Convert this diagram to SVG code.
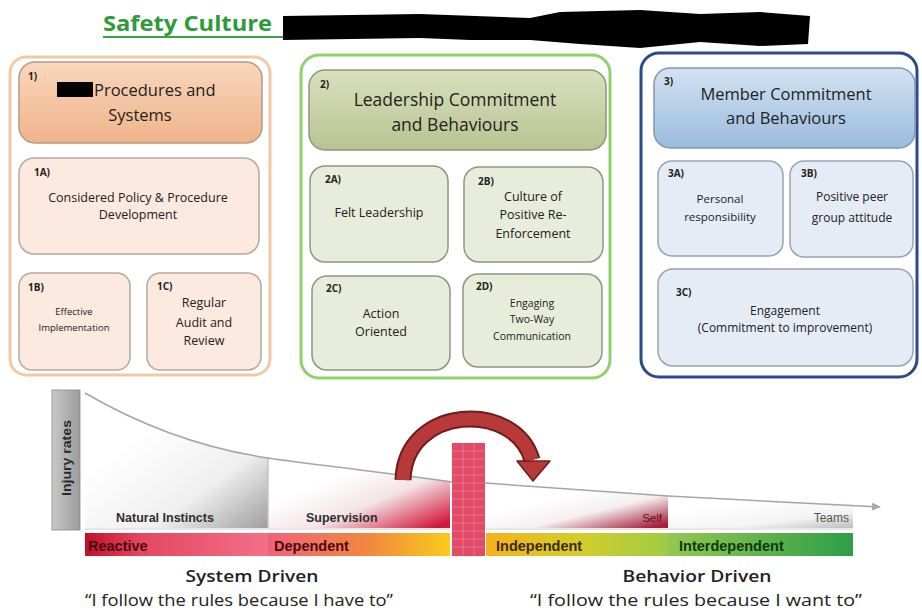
<svg xmlns="http://www.w3.org/2000/svg" width="922" height="613" viewBox="0 0 922 613">
<defs>
<style>
.t{font-family:"Open Sans","Noto Sans","Liberation Sans",sans-serif;fill:#222222}
.b{font-family:"Liberation Sans",Arial,sans-serif;font-weight:bold}
.lbl{font-size:10px;font-weight:bold}
.sub1{fill:#fce9df;stroke:#b8a8a0;stroke-width:1.5}
.sub2{fill:#e8ecdb;stroke:#8e9682;stroke-width:1.5}
.sub3{fill:#e5ecf5;stroke:#98a3b4;stroke-width:1.5}
</style>
<linearGradient id="h1" x1="0" y1="0" x2="0" y2="1"><stop offset="0" stop-color="#f9d6bd"/><stop offset="1" stop-color="#efb48a"/></linearGradient>
<linearGradient id="h2" x1="0" y1="0" x2="0" y2="1"><stop offset="0" stop-color="#d9e0bd"/><stop offset="1" stop-color="#b8c392"/></linearGradient>
<linearGradient id="h3" x1="0" y1="0" x2="0" y2="1"><stop offset="0" stop-color="#d3e2f2"/><stop offset="1" stop-color="#9abbdc"/></linearGradient>
<linearGradient id="ir" x1="0" y1="0" x2="1" y2="0"><stop offset="0" stop-color="#c8c8c8"/><stop offset="1" stop-color="#9c9c9c"/></linearGradient>
<linearGradient id="p1" x1="0.3" y1="0.3" x2="1" y2="1"><stop offset="0" stop-color="#ffffff"/><stop offset="0.55" stop-color="#efefef"/><stop offset="1" stop-color="#9e9e9e"/></linearGradient>
<linearGradient id="p2" x1="0.35" y1="0.3" x2="1" y2="0.9"><stop offset="0" stop-color="#ffffff"/><stop offset="0.45" stop-color="#f3e3e6"/><stop offset="1" stop-color="#d4173a"/></linearGradient>
<linearGradient id="p3" x1="0.4" y1="0.3" x2="1" y2="0.9"><stop offset="0" stop-color="#ffffff"/><stop offset="0.45" stop-color="#f5eef0"/><stop offset="1" stop-color="#a8203e"/></linearGradient>
<linearGradient id="p4" x1="0.4" y1="0.2" x2="1" y2="1"><stop offset="0" stop-color="#ffffff"/><stop offset="0.6" stop-color="#f3f3f3"/><stop offset="1" stop-color="#bdbdbd"/></linearGradient>
<linearGradient id="g1" x1="0" y1="0" x2="1" y2="0"><stop offset="0" stop-color="#c0102c"/><stop offset="0.3" stop-color="#e54660"/><stop offset="1" stop-color="#f27088"/></linearGradient>
<linearGradient id="g2" x1="0" y1="0" x2="1" y2="0"><stop offset="0" stop-color="#ef6378"/><stop offset="0.55" stop-color="#f2873e"/><stop offset="1" stop-color="#f8cc1c"/></linearGradient>
<linearGradient id="g3" x1="0" y1="0" x2="1" y2="0"><stop offset="0" stop-color="#f6b21a"/><stop offset="0.5" stop-color="#d6cc2a"/><stop offset="1" stop-color="#9fcb45"/></linearGradient>
<linearGradient id="g4" x1="0" y1="0" x2="1" y2="0"><stop offset="0" stop-color="#92c850"/><stop offset="1" stop-color="#2e9e48"/></linearGradient>
<marker id="ah" markerWidth="10" markerHeight="8" refX="8" refY="4" orient="auto" markerUnits="userSpaceOnUse"><path d="M0,0 L9,4 L0,8 Z" fill="#a8a8a8"/></marker>
</defs>
<rect x="0" y="0" width="922" height="613" fill="#ffffff"/>

<!-- title -->
<g id="title">
<text x="103" y="31" class="t" style="font-size:22px;font-weight:bold;fill:#2e9a3a" textLength="169" lengthAdjust="spacingAndGlyphs">Safety Culture</text>
<rect x="103" y="36" width="390" height="2" fill="#3aa040"/>
<path d="M283,16 L420,14 L530,18 L560,12 L640,10 L700,14 L760,12 L810,16 L808,44 L760,46 L700,42 L640,48 L580,44 L530,40 L470,40 L420,38 L283,40 Z" fill="#000000"/>
</g>

<!-- box 1 -->
<g id="box1">
<rect x="10" y="57" width="260" height="318" rx="16" fill="#ffffff" stroke="#f3c9a5" stroke-width="3"/>
</g>
<g id="n1">
<rect x="19" y="62" width="243" height="81" rx="16" fill="url(#h1)" stroke="#b4998a" stroke-width="1.5"/>
<text x="28" y="80" class="t lbl">1)</text>
<rect x="57" y="82" width="36" height="15" fill="#000000"/>
<text x="94" y="96" class="t" style="font-size:16.5px">Procedures and</text>
<text x="140" y="121" class="t" style="font-size:16.5px" text-anchor="middle">Systems</text>
</g>
<g id="n1A">
<rect x="19" y="158" width="240" height="96" rx="15" class="sub1"/>
<text x="34" y="176" class="t lbl">1A)</text>
<text x="138" y="202" class="t" style="font-size:12.5px" text-anchor="middle">Considered Policy &amp; Procedure</text>
<text x="138" y="219" class="t" style="font-size:12.5px" text-anchor="middle">Development</text>
</g>
<g id="n1B">
<rect x="19" y="273" width="111" height="97" rx="13" class="sub1"/>
<text x="28" y="291" class="t lbl">1B)</text>
<text x="74" y="315" class="t" style="font-size:9.5px" text-anchor="middle">Effective</text>
<text x="74" y="331" class="t" style="font-size:9.5px" text-anchor="middle">Implementation</text>
</g>
<g id="n1C">
<rect x="147" y="273" width="114" height="97" rx="13" class="sub1"/>
<text x="157" y="290" class="t lbl">1C)</text>
<text x="204" y="307" class="t" style="font-size:12.5px" text-anchor="middle">Regular</text>
<text x="204" y="327" class="t" style="font-size:12.5px" text-anchor="middle">Audit and</text>
<text x="204" y="345" class="t" style="font-size:12.5px" text-anchor="middle">Review</text>
</g>

<!-- box 2 -->
<g id="box2">
<rect x="301" y="55" width="309" height="323" rx="18" fill="#ffffff" stroke="#8fd16b" stroke-width="3"/>
</g>
<g id="n2">
<rect x="309" y="70" width="297" height="80" rx="16" fill="url(#h2)" stroke="#8d9678" stroke-width="1.5"/>
<text x="320" y="88" class="t lbl">2)</text>
<text x="455" y="106" class="t" style="font-size:17.5px" text-anchor="middle">Leadership Commitment</text>
<text x="455" y="131" class="t" style="font-size:17.5px" text-anchor="middle">and Behaviours</text>
</g>
<g id="n2A">
<rect x="310" y="166" width="138" height="96" rx="15" class="sub2"/>
<text x="325" y="183" class="t lbl">2A)</text>
<text x="379" y="217" class="t" style="font-size:12.5px" text-anchor="middle">Felt Leadership</text>
</g>
<g id="n2B">
<rect x="464" y="167" width="139" height="95" rx="15" class="sub2"/>
<text x="478" y="185" class="t lbl">2B)</text>
<text x="533" y="201" class="t" style="font-size:12.5px" text-anchor="middle">Culture of</text>
<text x="533" y="219" class="t" style="font-size:12.5px" text-anchor="middle">Positive Re-</text>
<text x="533" y="238" class="t" style="font-size:12.5px" text-anchor="middle">Enforcement</text>
</g>
<g id="n2C">
<rect x="312" y="276" width="138" height="94" rx="15" class="sub2"/>
<text x="326" y="292" class="t lbl">2C)</text>
<text x="381" y="318" class="t" style="font-size:12.5px" text-anchor="middle">Action</text>
<text x="381" y="336" class="t" style="font-size:12.5px" text-anchor="middle">Oriented</text>
</g>
<g id="n2D">
<rect x="463" y="274" width="139" height="93" rx="15" class="sub2"/>
<text x="476" y="290" class="t lbl">2D)</text>
<text x="532" y="307" class="t" style="font-size:10.5px" text-anchor="middle">Engaging</text>
<text x="532" y="323" class="t" style="font-size:10.5px" text-anchor="middle">Two-Way</text>
<text x="532" y="340" class="t" style="font-size:10.5px" text-anchor="middle">Communication</text>
</g>

<!-- box 3 -->
<g id="box3">
<rect x="641" y="53" width="276" height="324" rx="18" fill="#ffffff" stroke="#2c4a88" stroke-width="3"/>
</g>
<g id="n3">
<rect x="654" y="68" width="261" height="80" rx="16" fill="url(#h3)" stroke="#8496ad" stroke-width="1.5"/>
<text x="664" y="85" class="t lbl">3)</text>
<text x="786" y="100" class="t" style="font-size:16.5px" text-anchor="middle">Member Commitment</text>
<text x="786" y="124" class="t" style="font-size:16.5px" text-anchor="middle">and Behaviours</text>
</g>
<g id="n3A">
<rect x="658" y="161" width="125" height="95" rx="14" class="sub3"/>
<text x="668" y="177" class="t lbl">3A)</text>
<text x="720" y="203" class="t" style="font-size:11.5px" text-anchor="middle">Personal</text>
<text x="720" y="221" class="t" style="font-size:11.5px" text-anchor="middle">responsibility</text>
</g>
<g id="n3B">
<rect x="790" y="161" width="123" height="96" rx="14" class="sub3"/>
<text x="801" y="177" class="t lbl">3B)</text>
<text x="852" y="201" class="t" style="font-size:12px" text-anchor="middle">Positive peer</text>
<text x="852" y="222" class="t" style="font-size:12px" text-anchor="middle">group attitude</text>
</g>
<g id="n3C">
<rect x="658" y="269" width="255" height="97" rx="15" class="sub3"/>
<text x="676" y="296" class="t lbl">3C)</text>
<text x="785" y="315" class="t" style="font-size:12px" text-anchor="middle">Engagement</text>
<text x="785" y="332" class="t" style="font-size:12px" text-anchor="middle">(Commitment to improvement)</text>
</g>

<!-- bottom chart -->
<g id="injury">
<rect x="52" y="390" width="28" height="140" fill="url(#ir)" stroke="#8a8a8a" stroke-width="0.8"/>
<text transform="translate(71,458) rotate(-90)" class="b" style="font-size:12.5px;fill:#2a2a2a" text-anchor="middle" textLength="76" lengthAdjust="spacingAndGlyphs">Injury rates</text>
</g>
<g id="zones">
<path d="M85,393 C140,425 200,448 268,458 L268,528 L85,528 Z" fill="url(#p1)"/>
<path d="M268,458 C330,467 400,474 450,481 L450,528 L268,528 Z" fill="url(#p2)"/>
<path d="M486,483 L668,496 L668,528 L486,528 Z" fill="url(#p3)"/>
<path d="M668,496 L853,504 L853,528 L668,528 Z" fill="url(#p4)"/>
<line x1="268" y1="458" x2="268" y2="528" stroke="#c4c4c4" stroke-width="1.5"/>
<line x1="85" y1="529" x2="450" y2="529" stroke="#d0d0d0" stroke-width="1"/>
<line x1="486" y1="529" x2="853" y2="529" stroke="#d0d0d0" stroke-width="1"/>
<text x="116" y="522" class="b" style="font-size:12.5px;fill:#2e2e2e">Natural Instincts</text>
<text x="306" y="522" class="b" style="font-size:12.5px;fill:#2e2e2e">Supervision</text>
<text x="662" y="522" class="b" style="font-size:11.5px;fill:#5a1020;font-weight:normal" text-anchor="end">Self</text>
<text x="849" y="522" class="b" style="font-size:12px;fill:#555;font-weight:normal" text-anchor="end">Teams</text>
</g>
<g id="bars">
<rect x="85" y="533" width="183" height="23" fill="url(#g1)"/>
<rect x="268" y="533" width="182" height="23" fill="url(#g2)"/>
<rect x="486" y="533" width="182" height="23" fill="url(#g3)"/>
<rect x="668" y="533" width="185" height="23" fill="url(#g4)"/>
<text x="88" y="551" class="b" style="font-size:14.5px;fill:#4a0a14">Reactive</text>
<text x="274" y="551" class="b" style="font-size:14.5px;fill:#4a0a14">Dependent</text>
<text x="496" y="551" class="b" style="font-size:14.5px;fill:#3a2a00">Independent</text>
<text x="679" y="551" class="b" style="font-size:14.5px;fill:#0c3a10">Interdependent</text>
</g>
<g id="connectors">
<path d="M85,393 C140,425 200,448 268,458 C330,467 400,474 452,482" fill="none" stroke="#a6a6a6" stroke-width="1.5"/>
<path d="M485,483 L668,496 L880,507" fill="none" stroke="#a6a6a6" stroke-width="1.5" marker-end="url(#ah)"/>
<path d="M403,480 C405,405 515,400 532,460" fill="none" stroke="#6e1c1c" stroke-width="17"/>
<path d="M403,480 C405,405 515,400 532,460" fill="none" stroke="#b8393a" stroke-width="13"/>
<path d="M517,461 L550,461 L533,481 Z" fill="#b8393a" stroke="#6e1c1c" stroke-width="1.5" stroke-linejoin="round"/>
</g>
<g id="tower">
<rect x="452" y="443" width="33" height="113" fill="#e24a66"/>
<g stroke="#f07c92" stroke-width="0.8" fill="none">
<line x1="463" y1="443" x2="463" y2="556"/>
<line x1="474" y1="443" x2="474" y2="556"/>
<path d="M452,451 H485 M452,459 H485 M452,467 H485 M452,475 H485 M452,483 H485 M452,491 H485 M452,499 H485 M452,507 H485 M452,515 H485 M452,523 H485 M452,531 H485 M452,539 H485 M452,547 H485"/>
</g>
</g>
<g id="captions">
<text x="252" y="582" class="t" style="font-size:17px;font-weight:600;fill:#222" text-anchor="middle" textLength="133" lengthAdjust="spacingAndGlyphs">System Driven</text>
<text x="239" y="606" class="t" style="font-size:17px;fill:#222" text-anchor="middle" textLength="308" lengthAdjust="spacingAndGlyphs">“I follow the rules because I have to”</text>
<text x="697" y="582" class="t" style="font-size:17px;font-weight:600;fill:#222" text-anchor="middle" textLength="149" lengthAdjust="spacingAndGlyphs">Behavior Driven</text>
<text x="696" y="606" class="t" style="font-size:17px;fill:#222" text-anchor="middle" textLength="332" lengthAdjust="spacingAndGlyphs">“I follow the rules because I want to”</text>
</g>
</svg>
